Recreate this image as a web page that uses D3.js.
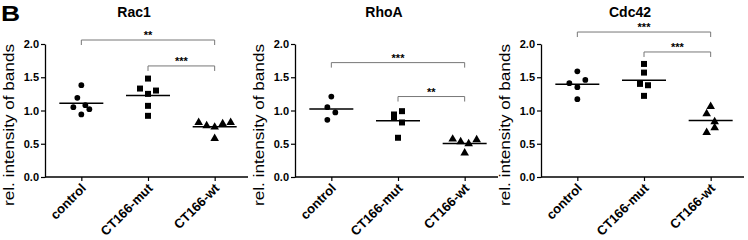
<!DOCTYPE html>
<html>
<head>
<meta charset="utf-8">
<script src="https://cdn.jsdelivr.net/npm/d3@7"></script>
<style>
  body { margin: 0; background: #fff; }
  svg { font-family: Arial, "Liberation Sans", sans-serif; }
</style>
</head>
<body>
<svg id="chart" width="748" height="240"></svg>
<script>
// groups on the x axis
const categories = ["control", "CT166-mut", "CT166-wt"];
const yTicks = [0, 0.5, 1.0, 1.5, 2.0];

// Rac1
const rac1Control = [1.38, 1.19, 1.05, 1.08, 1.02, 0.94];
const rac1Mut = [1.48, 1.33, 1.30, 1.25, 1.07, 0.92];
const rac1Wt = [0.82, 0.77, 0.75, 0.80, 0.82, 0.58];
// horizontal jitter of each point, in point-widths
const rac1ControlJit = [0, -1, -2, 1, 2, 0];
const rac1MutJit = [0, -2, 2, 0, 0, 0];
const rac1WtJit = [-4, -2, 0, 2, 4, 0];
const rac1Brackets = [["control", "CT166-wt", 2.06, "**"], ["CT166-mut", "CT166-wt", 1.67, "***"]];

// RhoA
const rhoaControl = [1.21, 1.05, 0.97, 0.86];
const rhoaMut = [0.99, 0.94, 0.89, 0.82, 0.59];
const rhoaWt = [0.57, 0.53, 0.50, 0.56, 0.36];
const rhoaControlJit = [0, -1, 1, -1];
const rhoaMutJit = [1, -1, -1, 1, 0];
const rhoaWtJit = [-3, -1, 1, 3, 0];
const rhoaBrackets = [["control", "CT166-wt", 1.72, "***"], ["CT166-mut", "CT166-wt", 1.21, "**"]];

// Cdc42
const cdc42Control = [1.59, 1.41, 1.46, 1.35, 1.17];
const cdc42Mut = [1.70, 1.57, 1.40, 1.38, 1.22];
const cdc42Wt = [1.06, 0.95, 0.83, 0.74, 0.67];
const cdc42ControlJit = [0, -2, 2, 0, 0];
const cdc42MutJit = [0, 0, -1, 1, 0];
const cdc42WtJit = [0, -1, 1, 1, -1];
const cdc42Brackets = [["control", "CT166-wt", 2.18, "***"], ["CT166-mut", "CT166-wt", 1.88, "***"]];

const panels = [
  { title: "Rac1", left: 45, groups: [rac1Control, rac1Mut, rac1Wt],
    jitter: [rac1ControlJit, rac1MutJit, rac1WtJit], brackets: rac1Brackets },
  { title: "RhoA", left: 295, groups: [rhoaControl, rhoaMut, rhoaWt],
    jitter: [rhoaControlJit, rhoaMutJit, rhoaWtJit], brackets: rhoaBrackets },
  { title: "Cdc42", left: 541, groups: [cdc42Control, cdc42Mut, cdc42Wt],
    jitter: [cdc42ControlJit, cdc42MutJit, cdc42WtJit], brackets: cdc42Brackets }
];

const svg = d3.select("#chart");
const plotTop = 44, plotBottom = 177, plotW = 203;
const jitterStep = 4;
const symbols = [d3.symbolCircle, d3.symbolSquare, d3.symbolTriangle];
const symbolSizes = [26, 36, 32];

svg.append("text")
  .attr("transform", "translate(1,20.5) scale(1.2,1)")
  .attr("font-size", 22).attr("font-weight", "bold")
  .text("B");

panels.forEach(p => {
  const g = svg.append("g").attr("transform", `translate(${p.left},0)`);

  const x = d3.scalePoint().domain(categories).range([3, plotW]).padding(0.5);
  const y = d3.scaleLinear().domain([0, 2]).range([plotBottom, plotTop]);

  // y axis
  const yAxis = g.append("g")
    .call(d3.axisLeft(y).tickValues(yTicks).tickFormat(d3.format(".1f")).tickSize(4).tickSizeOuter(0));
  yAxis.select(".domain").attr("stroke-width", 1.3);
  yAxis.selectAll(".tick line").attr("stroke-width", 1.2);
  yAxis.selectAll(".tick text").attr("font-size", 11).attr("font-weight", "bold")
    .attr("font-family", "Arial, 'Liberation Sans', sans-serif").attr("x", -6);

  // x axis
  const xAxis = g.append("g").attr("transform", `translate(0,${plotBottom})`)
    .call(d3.axisBottom(x).tickSize(4).tickSizeOuter(0));
  xAxis.select(".domain").attr("d", `M0,0H${plotW}`).attr("stroke-width", 1.3);
  xAxis.selectAll(".tick line").attr("stroke-width", 1.2);
  xAxis.selectAll(".tick text")
    .attr("font-size", 13).attr("font-weight", "bold")
    .attr("font-family", "Arial, 'Liberation Sans', sans-serif")
    .attr("text-anchor", "end")
    .attr("dy", null).attr("y", 0)
    .attr("transform", "translate(5,12) rotate(-45)");

  // title
  g.append("text")
    .attr("x", 89).attr("y", 17)
    .attr("text-anchor", "middle")
    .attr("font-size", 14).attr("font-weight", "bold")
    .text(p.title);

  // y label
  g.append("text")
    .attr("transform", `translate(-31,125) rotate(-90)`)
    .attr("text-anchor", "middle")
    .attr("font-size", 15)
    .attr("textLength", 162)
    .attr("lengthAdjust", "spacingAndGlyphs")
    .text("rel. intensity of bands");

  // points
  p.groups.forEach((vals, i) => {
    const cat = categories[i];
    g.selectAll(null)
      .data(vals.map((v, k) => ({ v, j: p.jitter[i][k] })))
      .join("path")
      .attr("d", d3.symbol().type(symbols[i]).size(symbolSizes[i]))
      .attr("transform", d => `translate(${x(cat) + d.j * jitterStep},${y(d.v)})`)
      .attr("fill", "#000");

    const m = d3.mean(vals);
    g.append("line")
      .attr("x1", x(cat) - 22).attr("x2", x(cat) + 22)
      .attr("y1", y(m)).attr("y2", y(m))
      .attr("stroke", "#000").attr("stroke-width", 1.5);
  });

  // significance brackets
  p.brackets.forEach(([a, b, level, label]) => {
    const yy = y(level);
    g.append("path")
      .attr("d", `M${x(a)},${yy + 5}V${yy}H${x(b)}V${yy + 5}`)
      .attr("fill", "none").attr("stroke", "#777").attr("stroke-width", 1);
    g.append("text")
      .attr("x", (x(a) + x(b)) / 2).attr("y", yy - 1)
      .attr("text-anchor", "middle")
      .attr("font-size", 11).attr("font-weight", "bold")
      .text(label);
  });
});
</script>
</body>
</html>
